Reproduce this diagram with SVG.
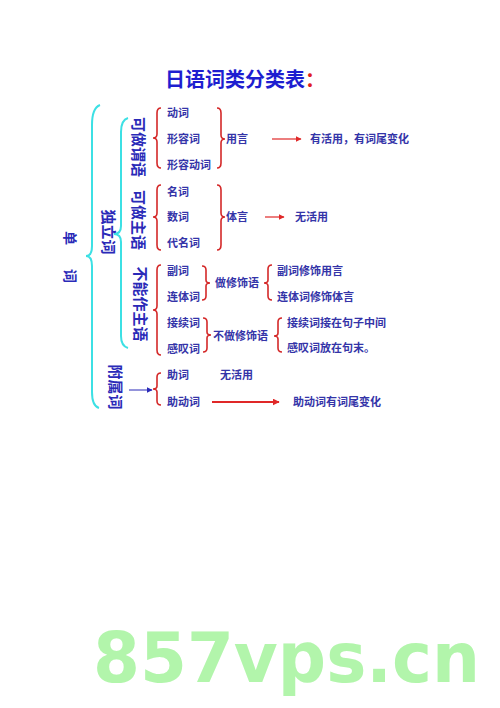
<svg xmlns="http://www.w3.org/2000/svg" width="500" height="708" viewBox="0 0 500 708">
<defs>
<style>
.t{font-family:"Noto Sans CJK SC","Noto Sans",sans-serif;fill:#3434a8;font-size:11px;font-weight:bold}
.v{font-family:"Noto Sans CJK SC","Noto Sans",sans-serif;fill:#2a2ab8;font-size:15px;font-weight:bold}
.rb{fill:none;stroke:#d42828;stroke-width:1.6}
.cb{fill:none;stroke:#3ce0e4;stroke-width:2}
.ra{stroke:#e02828;stroke-width:1.2;fill:none}
</style>
<marker id="ar" viewBox="0 0 10 10" refX="9" refY="5" markerWidth="6" markerHeight="6" markerUnits="userSpaceOnUse" orient="auto"><path d="M0,0 L10,5 L0,10 z" fill="#e02828"/></marker>
<marker id="arB" viewBox="0 0 10 10" refX="9" refY="5" markerWidth="7" markerHeight="7" markerUnits="userSpaceOnUse" orient="auto"><path d="M0,0 L10,5 L0,10 z" fill="#e02828"/></marker>
<marker id="ab" viewBox="0 0 10 10" refX="9" refY="5" markerWidth="6" markerHeight="6" markerUnits="userSpaceOnUse" orient="auto"><path d="M0,0 L10,5 L0,10 z" fill="#2a2ab8"/></marker>
</defs>
<rect width="500" height="708" fill="#ffffff"/>
<text x="93" y="682" textLength="387" lengthAdjust="spacingAndGlyphs" style="font-family:'DejaVu Sans',sans-serif;font-weight:bold;font-size:70px;fill:#b2f5ab">857vps.cn</text>
<g id="title">
<text x="165" y="87" style="font-family:'Noto Sans CJK SC',sans-serif;font-size:20px;font-weight:bold;fill:#1e1ed0">日语词类分类表<tspan fill="#e02020">：</tspan></text>
</g>
<g id="connectors">
<path class="cb" d="M100,105 Q92,108 92,125 L92,246 Q92,256 86,256 Q92,256 92,266 L92,392 Q92,406 99,408"/>
<path class="cb" d="M128,118 Q121,120 121,132 L121,226 Q121,234 114,234 Q121,234 121,242 L121,336 Q121,346 128,348"/>
<path class="rb" d="M161,108 Q157,108 157,113 L157,134 Q157,138 153,138 Q157,138 157,142 L157,163 Q157,168 161,168"/>
<path class="rb" d="M161,185 Q157,185 157,190 L157,213 Q157,217 153,217 Q157,217 157,221 L157,245 Q157,250 161,250"/>
<path class="rb" d="M161,265 Q157,265 157,270 L157,306 Q157,310 153,310 Q157,310 157,314 L157,350 Q157,355 161,355"/>
<path class="rb" d="M161,373 Q157,373 157,377 L157,386 Q157,389 153,389 Q157,389 157,392 L157,401 Q157,405 161,405"/>
<path class="rb" d="M217,108 Q221,108 221,113 L221,135 Q221,139 225,139 Q221,139 221,143 L221,163 Q221,168 217,168"/>
<path class="rb" d="M217,185 Q221,185 221,190 L221,213 Q221,217 225,217 Q221,217 221,221 L221,245 Q221,250 217,250"/>
<path class="rb" d="M202,266 Q206,266 206,270 L206,280 Q206,283 210,283 Q206,283 206,286 L206,296 Q206,300 202,300"/>
<path class="rb" d="M203,318 Q207,318 207,322 L207,332 Q207,335 211,335 Q207,335 207,338 L207,348 Q207,352 203,352"/>
<path class="rb" d="M272,265 Q268,265 268,269 L268,280 Q268,283 264,283 Q268,283 268,286 L268,296 Q268,300 272,300"/>
<path class="rb" d="M282,318 Q278,318 278,322 L278,333 Q278,336 274,336 Q278,336 278,339 L278,348 Q278,352 282,352"/>
<line class="ra" x1="272" y1="139" x2="301" y2="139" marker-end="url(#ar)"/>
<line class="ra" x1="265" y1="217" x2="284" y2="217" marker-end="url(#ar)"/>
<line x1="212" y1="402" x2="279" y2="402" stroke="#e02828" stroke-width="2" marker-end="url(#arB)"/>
<line x1="129" y1="390" x2="152" y2="390" stroke="#2a2ab8" stroke-width="1" marker-end="url(#ab)"/>
</g>
<g id="n-danci">
<text class="v" transform="translate(71,238) rotate(90)" text-anchor="middle" dominant-baseline="central" style="font-size:14px">单</text>
<text class="v" transform="translate(71,276) rotate(90)" text-anchor="middle" dominant-baseline="central" style="font-size:14px">词</text>
</g>
<g id="n-duliCi"><text class="v" transform="translate(109,232) rotate(90)" text-anchor="middle" dominant-baseline="central">独立词</text></g>
<g id="n-fushuCi"><text class="v" transform="translate(116,387) rotate(90)" text-anchor="middle" dominant-baseline="central">附属词</text></g>
<g id="n-weiyu"><text class="v" transform="translate(139,147) rotate(90)" text-anchor="middle" dominant-baseline="central">可做谓语</text></g>
<g id="n-zhuyu"><text class="v" transform="translate(139,220) rotate(90)" text-anchor="middle" dominant-baseline="central">可做主语</text></g>
<g id="n-buneng"><text class="v" transform="translate(141,304) rotate(90)" text-anchor="middle" dominant-baseline="central">不能作主语</text></g>
<g id="n-dongci"><text class="t" x="167" y="117">动词</text></g>
<g id="n-xingrongci"><text class="t" x="167" y="143">形容词</text></g>
<g id="n-xingrongdongci"><text class="t" x="167" y="169">形容动词</text></g>
<g id="n-mingci"><text class="t" x="167" y="196">名词</text></g>
<g id="n-shuci"><text class="t" x="167" y="221">数词</text></g>
<g id="n-daimingci"><text class="t" x="167" y="247">代名词</text></g>
<g id="n-yongyan"><text class="t" x="226" y="143">用言</text></g>
<g id="n-youhuoyong"><text class="t" x="310" y="143">有活用，有词尾变化</text></g>
<g id="n-tiyan"><text class="t" x="226" y="221">体言</text></g>
<g id="n-wuhuoyong1"><text class="t" x="295" y="221">无活用</text></g>
<g id="n-fuci"><text class="t" x="167" y="275">副词</text></g>
<g id="n-liantici"><text class="t" x="167" y="301">连体词</text></g>
<g id="n-jiexuci"><text class="t" x="167" y="327">接续词</text></g>
<g id="n-gantanci"><text class="t" x="167" y="353">感叹词</text></g>
<g id="n-zuoxiushi"><text class="t" x="215" y="287">做修饰语</text></g>
<g id="n-buzuoxiushi"><text class="t" x="213" y="340">不做修饰语</text></g>
<g id="n-fuciXiushi"><text class="t" x="277" y="275">副词修饰用言</text></g>
<g id="n-lianticiXiushi"><text class="t" x="277" y="301">连体词修饰体言</text></g>
<g id="n-jiexuJie"><text class="t" x="287" y="327">接续词接在句子中间</text></g>
<g id="n-gantanFang"><text class="t" x="287" y="352">感叹词放在句末。</text></g>
<g id="n-zhuci"><text class="t" x="167" y="379">助词</text></g>
<g id="n-wuhuoyong2"><text class="t" x="220" y="379">无活用</text></g>
<g id="n-zhudongci"><text class="t" x="167" y="406">助动词</text></g>
<g id="n-zhudongciYou"><text class="t" x="293" y="406">助动词有词尾变化</text></g>
</svg>
